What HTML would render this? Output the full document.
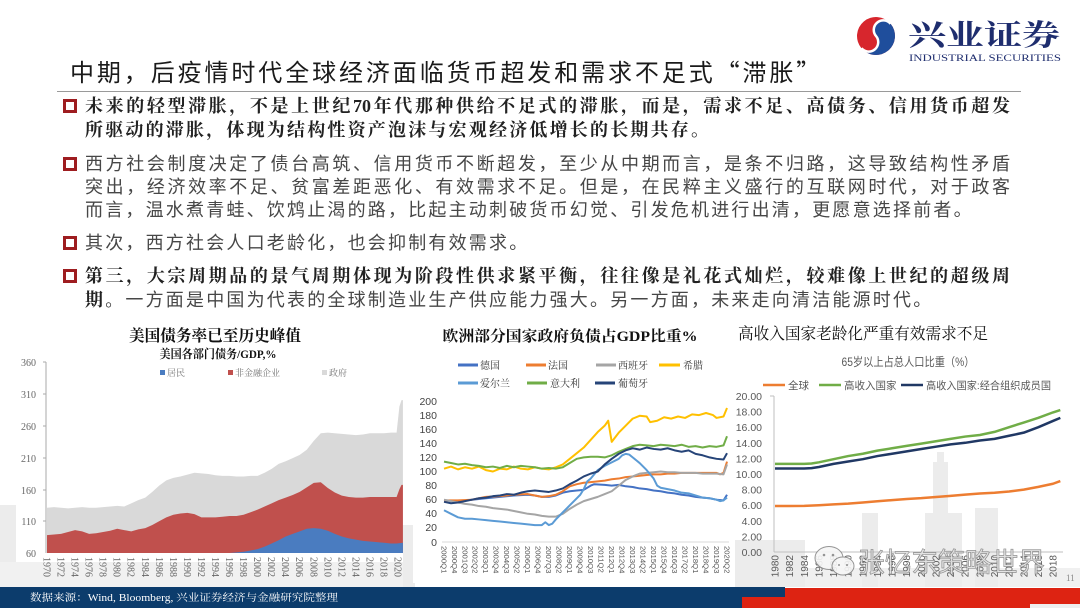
<!DOCTYPE html>
<html><head><meta charset="utf-8">
<style>
html,body{margin:0;padding:0;background:#fff;}
#pg{position:relative;width:1080px;height:608px;overflow:hidden;background:#fff;}
svg{position:absolute;left:0;top:0;}
.t{position:absolute;left:70px;top:56px;font-family:"Noto Sans CJK SC","Liberation Sans",sans-serif;font-size:24px;letter-spacing:2.9px;line-height:30px;color:#1a1a1a;white-space:nowrap;}
.rule{position:absolute;left:57px;top:91px;width:964px;height:1px;background:#9a9a9a;}
.l{position:absolute;left:85px;height:24px;line-height:24px;font-size:18px;}
.b{font-family:"Liberation Serif","Noto Serif CJK SC",serif;font-weight:700;color:#222;}
.r{font-family:"Liberation Sans","Noto Sans CJK SC",sans-serif;font-weight:400;color:#474747;}
.j{width:925px;text-align:justify;text-align-last:justify;}
.n{letter-spacing:2.2px;white-space:nowrap;}
.sq{position:absolute;left:63px;width:14px;height:14px;box-sizing:border-box;border:3.5px solid #9e1d20;background:#fff;}
</style></head><body><div id="pg">
<svg width="1080" height="608" viewBox="0 0 1080 608" xmlns="http://www.w3.org/2000/svg">
<!-- background skyline -->
<g fill="#ececec">
<rect x="0" y="505" width="16" height="82"/>
<rect x="0" y="562" width="410" height="25" fill="#f1f1f1"/>
<rect x="403" y="525" width="12" height="62"/>
<rect x="735" y="568" width="345" height="19" fill="#f0f0f0"/>
<rect x="735" y="540" width="70" height="47"/>
<rect x="862" y="513" width="16" height="74"/>
<rect x="925" y="513" width="37" height="74"/>
<rect x="933" y="462" width="15" height="51"/>
<rect x="937" y="452" width="7" height="10"/>
<rect x="975" y="508" width="23" height="79"/>
</g>
<rect x="413" y="318" width="322" height="265" fill="#fff"/>

<!-- logo -->
<g transform="translate(876,36) rotate(-40)">
<circle cx="0" cy="0" r="19" fill="#d7262d"/>
<path d="M-19,0 A19,19 0 0 0 19,0 A9.5,9.5 0 0 0 0,0 A9.5,9.5 0 0 1 -19,0 Z" fill="#1f4e9c"/>
<path d="M-19,0 A9.5,9.5 0 0 0 0,0 A9.5,9.5 0 0 1 19,0" fill="none" stroke="#fff" stroke-width="2.5"/>
</g>
<text x="908" y="45" font-family="Noto Serif CJK SC, serif" font-weight="700" font-size="29" fill="#1e2d6e" textLength="152" lengthAdjust="spacingAndGlyphs">兴业证券</text>
<text x="909" y="61" font-family="Liberation Serif, serif" font-size="9.5" fill="#1e2d6e" textLength="152" lengthAdjust="spacingAndGlyphs">INDUSTRIAL SECURITIES</text>

<!-- LEFT CHART -->
<text x="215" y="341" text-anchor="middle" font-family="Liberation Serif, Noto Serif CJK SC, serif" font-weight="700" font-size="16" fill="#111" textLength="172" lengthAdjust="spacingAndGlyphs">美国债务率已至历史峰值</text>
<text x="218" y="358" text-anchor="middle" font-family="Liberation Serif, Noto Serif CJK SC, serif" font-weight="700" font-size="12" fill="#111" textLength="117" lengthAdjust="spacingAndGlyphs">美国各部门债务/GDP,%</text>
<g font-family="Liberation Serif, Noto Serif CJK SC, serif" font-size="9" fill="#777">
<rect x="160" y="370" width="5" height="5" fill="#4a7cc0"/><text x="167" y="376">居民</text>
<rect x="228" y="370" width="5" height="5" fill="#c0504d"/><text x="235" y="376">非金融企业</text>
<rect x="322" y="370" width="5" height="5" fill="#d9d9d9"/><text x="329" y="376">政府</text>
</g>
<g transform="translate(47,553) scale(7.02,-0.637)">
<polygon fill="#d9d9d9" points="0,71 1,72 2,71 3,70 4,71 5,72 6,71 7,71 8,72 9,73 10,74 11,73 12,78 13,83 14,87 15,96 16,106 17,114 18,118 19,120 20,123 21,126 22,125 23,124 24,122 25,121 26,121 27,120 28,120 29,121 30,121 31,126 32,132 33,140 34,144 35,149 36,154 37,162 38,176 39,188 40,189 41,188 42,187 43,186 44,185 45,186 46,188 47,188 48,188 49,189 49.8,189 50.2,230 50.5,240 50.7,240 50.7,0 0,0"/>
<polygon fill="#c0504d" points="0,28 1,29 2,30 3,33 4,36 5,34 6,30 7,31 8,33 9,35 10,38 11,36 12,34 13,37 14,39 15,44 16,50 17,56 18,60 19,62 20,63 21,61 22,56 23,56 24,56 25,57 26,58 27,58 28,60 29,64 30,68 31,73 32,78 33,83 34,87 35,91 36,96 37,103 38,110 39,111 40,102 41,95 42,90 43,88 44,87 45,87 46,88 47,88 48,88 49,88 49.8,88 50.2,100 50.5,107 50.7,107 50.7,0 0,0"/>
<polygon fill="#4a7cc0" points="25,0 26,0 27,1 28,2 29,4 30,6 31,10 32,15 33,20 34,26 35,30 36,34 37,38 38,39 39,38 40,35 41,30 42,26 43,23 44,21 45,19 46,18 47,17 48,16 49,15 49.8,15 50.7,16 50.7,0"/>
</g>
<line x1="46" y1="362" x2="46" y2="553" stroke="#aaa" stroke-width="1"/>
<g stroke="#aaa" stroke-width="1">
<line x1="43" y1="362" x2="46" y2="362"/><line x1="43" y1="394" x2="46" y2="394"/><line x1="43" y1="426" x2="46" y2="426"/><line x1="43" y1="458" x2="46" y2="458"/><line x1="43" y1="490" x2="46" y2="490"/><line x1="43" y1="521" x2="46" y2="521"/>
</g>
<g font-family="Liberation Serif, serif" font-size="10" fill="#666" text-anchor="end">
<text x="36" y="366">360</text><text x="36" y="398">310</text><text x="36" y="430">260</text><text x="36" y="462">210</text><text x="36" y="494">160</text><text x="36" y="525">110</text><text x="36" y="557">60</text>
</g>
<g font-family="Liberation Serif, serif" font-size="10" fill="#666">
<text transform="translate(43.5,557) rotate(90)">1970</text>
<text transform="translate(57.5,557) rotate(90)">1972</text>
<text transform="translate(71.6,557) rotate(90)">1974</text>
<text transform="translate(85.6,557) rotate(90)">1976</text>
<text transform="translate(99.7,557) rotate(90)">1978</text>
<text transform="translate(113.7,557) rotate(90)">1980</text>
<text transform="translate(127.7,557) rotate(90)">1982</text>
<text transform="translate(141.8,557) rotate(90)">1984</text>
<text transform="translate(155.8,557) rotate(90)">1986</text>
<text transform="translate(169.9,557) rotate(90)">1988</text>
<text transform="translate(183.9,557) rotate(90)">1990</text>
<text transform="translate(197.9,557) rotate(90)">1992</text>
<text transform="translate(212,557) rotate(90)">1994</text>
<text transform="translate(226,557) rotate(90)">1996</text>
<text transform="translate(240.1,557) rotate(90)">1998</text>
<text transform="translate(254.1,557) rotate(90)">2000</text>
<text transform="translate(268.1,557) rotate(90)">2002</text>
<text transform="translate(282.2,557) rotate(90)">2004</text>
<text transform="translate(296.2,557) rotate(90)">2006</text>
<text transform="translate(310.3,557) rotate(90)">2008</text>
<text transform="translate(324.3,557) rotate(90)">2010</text>
<text transform="translate(338.3,557) rotate(90)">2012</text>
<text transform="translate(352.4,557) rotate(90)">2014</text>
<text transform="translate(366.4,557) rotate(90)">2016</text>
<text transform="translate(380.5,557) rotate(90)">2018</text>
<text transform="translate(394.5,557) rotate(90)">2020</text>
</g>

<!-- MIDDLE CHART -->
<text x="570" y="341" text-anchor="middle" font-family="Liberation Serif, Noto Serif CJK SC, serif" font-weight="700" font-size="15" fill="#111" textLength="255" lengthAdjust="spacingAndGlyphs">欧洲部分国家政府负债占GDP比重%</text>
<g stroke-width="3">
<line x1="458" y1="365" x2="478" y2="365" stroke="#4472c4"/>
<line x1="526" y1="365" x2="546" y2="365" stroke="#ed7d31"/>
<line x1="596" y1="365" x2="616" y2="365" stroke="#a5a5a5"/>
<line x1="659" y1="365" x2="680" y2="365" stroke="#ffc000"/>
<line x1="458" y1="383" x2="478" y2="383" stroke="#5b9bd5"/>
<line x1="527" y1="383" x2="547" y2="383" stroke="#70ad47"/>
<line x1="595" y1="383" x2="615" y2="383" stroke="#264478"/>
</g>
<g font-family="Liberation Serif, Noto Serif CJK SC, serif" font-size="10" fill="#333">
<text x="480" y="369">德国</text><text x="548" y="369">法国</text><text x="618" y="369">西班牙</text><text x="683" y="369">希腊</text>
<text x="480" y="387">爱尔兰</text><text x="550" y="387">意大利</text><text x="618" y="387">葡萄牙</text>
</g>
<line x1="442" y1="542" x2="729" y2="542" stroke="#d9d9d9" stroke-width="1"/>
<g font-family="Liberation Sans, sans-serif" font-size="10.5" fill="#444" text-anchor="end">
<text x="437" y="405">200</text><text x="437" y="419">180</text><text x="437" y="433">160</text><text x="437" y="447">140</text><text x="437" y="461">120</text><text x="437" y="475">100</text><text x="437" y="489">80</text><text x="437" y="503">60</text><text x="437" y="517">40</text><text x="437" y="531">20</text><text x="437" y="546">0</text>
</g>
<g transform="translate(444,542) scale(3.494,-0.705)" fill="none" stroke-width="2" stroke-linejoin="round">
<polyline vector-effect="non-scaling-stroke" stroke="#4472c4" points="0,59 4,58 8,60 12,62 16,64 20,66 24,67 26,66 28,64 30,64 32,66 34,70 36,72 38,73 40,74 42,80 43,82 46,81 48,80 50,81 52,79 54,78 56,76 58,75 60,73 62,72 64,70 66,69 68,67 70,66 72,64 74,63 76,62 78,60 80,59 81,67"/>
<polyline vector-effect="non-scaling-stroke" stroke="#ed7d31" points="0,59 4,59 8,60 10,62 12,64 16,65 20,67 24,68 26,66 28,64 30,65 32,67 34,72 36,79 38,82 40,84 42,85 44,86 46,87 48,89 50,90 52,92 54,93 56,94 58,95 60,96 62,96 64,97 66,97 68,98 70,98 72,98 74,98 76,98 78,98 79,96 80,98 81,114"/>
<polyline vector-effect="non-scaling-stroke" stroke="#a5a5a5" points="0,60 2,58 4,56 6,54 8,53 10,51 12,50 14,48 16,47 18,46 20,44 22,42 24,40 26,39 28,37 30,36 32,36 34,40 36,47 38,53 40,58 42,61 44,64 46,68 48,72 50,80 52,88 54,93 56,97 58,98 60,99 62,100 64,99 66,99 68,98 70,98 72,98 74,97 76,97 78,97 80,96 81,110"/>
<polyline vector-effect="non-scaling-stroke" stroke="#ffc000" points="0,104 2,107 4,103 6,106 8,104 10,107 12,102 14,100 16,104 18,103 20,107 22,104 24,103 26,106 28,104 30,103 32,106 34,110 36,118 38,126 40,134 42,145 44,156 46,165 47,172 48,142 50,155 52,165 54,175 56,179 58,178 59,170 61,172 63,177 65,175 67,178 69,176 71,181 73,180 75,183 77,180 78,176 80,178 81,190"/>
<polyline vector-effect="non-scaling-stroke" stroke="#5b9bd5" points="0,45 2,40 4,35 6,33 8,33 10,32 12,31 14,30 16,29 18,28 20,27 22,26 24,25 26,24 28,24 29,28 30,24 31,26 32,32 34,42 36,52 38,62 39,67 40,75 41,86 42,90 44,102 46,108 48,113 50,118 51,123 52,125 53,124 54,120 56,112 58,102 60,90 61,80 62,77 64,75 66,73 68,70 70,69 72,66 74,63 76,62 78,60 79,58 80,59 81,63"/>
<polyline vector-effect="non-scaling-stroke" stroke="#70ad47" points="0,114 2,112 4,110 6,111 8,109 10,108 12,106 14,107 16,105 18,108 20,106 22,108 24,107 26,106 28,104 30,105 32,104 34,106 36,112 38,118 40,120 42,121 44,121 46,120 48,123 50,128 52,132 54,136 56,138 58,137 60,136 62,138 64,137 66,136 68,138 70,135 72,136 74,134 76,136 78,135 80,137 81,150"/>
<polyline vector-effect="non-scaling-stroke" stroke="#264478" points="0,57 2,55 4,56 6,58 8,60 10,62 12,63 14,65 16,66 18,68 20,67 22,70 24,72 26,73 28,72 30,71 32,73 34,76 36,82 38,87 40,93 42,97 44,100 46,110 48,118 50,125 52,130 54,133 56,131 58,134 60,132 62,131 64,133 66,130 68,128 70,130 72,125 74,123 76,120 78,118 80,117 81,126"/>
</g>
<g font-family="Liberation Sans, sans-serif" font-size="7.7" fill="#555">
<text transform="translate(441.3,546) rotate(90)">2000Q1</text>
<text transform="translate(451.8,546) rotate(90)">2000Q4</text>
<text transform="translate(462.3,546) rotate(90)">2001Q3</text>
<text transform="translate(472.7,546) rotate(90)">2002Q2</text>
<text transform="translate(483.2,546) rotate(90)">2003Q1</text>
<text transform="translate(493.7,546) rotate(90)">2003Q4</text>
<text transform="translate(504.2,546) rotate(90)">2004Q3</text>
<text transform="translate(514.7,546) rotate(90)">2005Q2</text>
<text transform="translate(525.1,546) rotate(90)">2006Q1</text>
<text transform="translate(535.6,546) rotate(90)">2006Q4</text>
<text transform="translate(546.1,546) rotate(90)">2007Q3</text>
<text transform="translate(556.6,546) rotate(90)">2008Q2</text>
<text transform="translate(567.1,546) rotate(90)">2009Q1</text>
<text transform="translate(577.5,546) rotate(90)">2009Q4</text>
<text transform="translate(588,546) rotate(90)">2010Q3</text>
<text transform="translate(598.5,546) rotate(90)">2011Q2</text>
<text transform="translate(609,546) rotate(90)">2012Q1</text>
<text transform="translate(619.5,546) rotate(90)">2012Q4</text>
<text transform="translate(629.9,546) rotate(90)">2013Q3</text>
<text transform="translate(640.4,546) rotate(90)">2014Q2</text>
<text transform="translate(650.9,546) rotate(90)">2015Q1</text>
<text transform="translate(661.4,546) rotate(90)">2015Q4</text>
<text transform="translate(671.9,546) rotate(90)">2016Q3</text>
<text transform="translate(682.3,546) rotate(90)">2017Q2</text>
<text transform="translate(692.8,546) rotate(90)">2018Q1</text>
<text transform="translate(703.3,546) rotate(90)">2018Q4</text>
<text transform="translate(713.8,546) rotate(90)">2019Q3</text>
<text transform="translate(724.3,546) rotate(90)">2020Q2</text>
</g>

<!-- RIGHT CHART -->
<text x="738" y="339" font-family="Liberation Serif, Noto Serif CJK SC, serif" font-size="16" fill="#111" textLength="250" lengthAdjust="spacingAndGlyphs">高收入国家老龄化严重有效需求不足</text>
<text x="908" y="366" text-anchor="middle" font-family="Liberation Sans, Noto Sans CJK SC, sans-serif" font-size="12" fill="#595959" textLength="133" lengthAdjust="spacingAndGlyphs">65岁以上占总人口比重（%）</text>
<g stroke-width="2.5">
<line x1="763" y1="385" x2="785" y2="385" stroke="#ed7d31"/>
<line x1="819" y1="385" x2="841" y2="385" stroke="#70ad47"/>
<line x1="901" y1="385" x2="923" y2="385" stroke="#203864"/>
</g>
<g font-family="Liberation Sans, Noto Sans CJK SC, sans-serif" font-size="10.5" fill="#595959">
<text x="788" y="389">全球</text><text x="844" y="389">高收入国家</text><text x="926" y="389" textLength="125" lengthAdjust="spacingAndGlyphs">高收入国家:经合组织成员国</text>
</g>
<g font-family="Liberation Sans, sans-serif" font-size="10.5" fill="#595959" text-anchor="end">
<text x="762" y="400">20.00</text><text x="762" y="415.6">18.00</text><text x="762" y="431.2">16.00</text><text x="762" y="446.8">14.00</text><text x="762" y="462.4">12.00</text><text x="762" y="478">10.00</text><text x="762" y="493.6">8.00</text><text x="762" y="509.2">6.00</text><text x="762" y="524.8">4.00</text><text x="762" y="540.4">2.00</text><text x="762" y="556">0.00</text>
</g>
<line x1="774" y1="396" x2="774" y2="552" stroke="#bfbfbf"/>
<line x1="770" y1="396" x2="774" y2="396" stroke="#bfbfbf"/>
<line x1="774" y1="552" x2="1063" y2="552" stroke="#bfbfbf"/>
<g transform="translate(775,552) scale(7.316,-7.8)" fill="none" stroke-width="2.5" stroke-linejoin="round">
<polyline vector-effect="non-scaling-stroke" stroke="#ed7d31" points="0,5.9 2,5.9 4,5.92 6,6.0 8,6.1 10,6.2 12,6.35 14,6.5 16,6.65 18,6.8 20,6.9 22,7.05 24,7.2 26,7.35 28,7.5 30,7.6 32,7.75 34,8.0 36,8.35 38,8.75 39,9.1"/>
<polyline vector-effect="non-scaling-stroke" stroke="#70ad47" points="0,11.3 2,11.3 4,11.3 5,11.35 6,11.5 8,11.9 10,12.3 12,12.6 14,13.0 16,13.3 18,13.6 20,13.9 22,14.2 24,14.5 26,14.8 28,15.0 30,15.4 32,16.0 34,16.6 36,17.2 38,17.9 39,18.2"/>
<polyline vector-effect="non-scaling-stroke" stroke="#203864" points="0,10.7 2,10.7 4,10.7 5,10.75 6,10.9 8,11.3 10,11.6 12,11.9 14,12.3 16,12.6 18,12.9 20,13.2 22,13.5 24,13.8 26,14.0 28,14.3 30,14.5 32,14.9 34,15.3 36,16.0 38,16.8 39,17.2"/>
</g>
<g font-family="Liberation Sans, sans-serif" font-size="10" fill="#595959" text-anchor="end">
<text transform="translate(778.5,555) rotate(-90)">1980</text>
<text transform="translate(793.1,555) rotate(-90)">1982</text>
<text transform="translate(807.8,555) rotate(-90)">1984</text>
<text transform="translate(822.4,555) rotate(-90)">1986</text>
<text transform="translate(837.0,555) rotate(-90)">1988</text>
<text transform="translate(851.7,555) rotate(-90)">1990</text>
<text transform="translate(866.3,555) rotate(-90)">1992</text>
<text transform="translate(880.9,555) rotate(-90)">1994</text>
<text transform="translate(895.6,555) rotate(-90)">1996</text>
<text transform="translate(910.2,555) rotate(-90)">1998</text>
<text transform="translate(924.8,555) rotate(-90)">2000</text>
<text transform="translate(939.5,555) rotate(-90)">2002</text>
<text transform="translate(954.1,555) rotate(-90)">2004</text>
<text transform="translate(968.7,555) rotate(-90)">2006</text>
<text transform="translate(983.4,555) rotate(-90)">2008</text>
<text transform="translate(998.0,555) rotate(-90)">2010</text>
<text transform="translate(1012.6,555) rotate(-90)">2012</text>
<text transform="translate(1027.3,555) rotate(-90)">2014</text>
<text transform="translate(1041.9,555) rotate(-90)">2016</text>
<text transform="translate(1056.5,555) rotate(-90)">2018</text>
</g>

<!-- watermark -->
<g opacity="0.9">
<ellipse cx="829" cy="558" rx="14" ry="11.5" fill="#f6f6f6" stroke="#8a8a8a" stroke-width="1"/>
<ellipse cx="843" cy="566" rx="11" ry="9" fill="#f6f6f6" stroke="#8a8a8a" stroke-width="1"/>
<circle cx="824" cy="555" r="1.3" fill="#8a8a8a"/><circle cx="833" cy="555" r="1.3" fill="#8a8a8a"/>
<circle cx="839" cy="565" r="1" fill="#8a8a8a"/><circle cx="847" cy="565" r="1" fill="#8a8a8a"/>
<text x="858" y="572" font-family="Noto Sans CJK SC, sans-serif" font-size="27" fill="#e2e2e2" stroke="#858585" stroke-width="0.7" textLength="187" lengthAdjust="spacingAndGlyphs">张忆东策略世界</text>
</g>
<text x="1066" y="581" font-family="Liberation Serif, serif" font-size="9" fill="#888">11</text>

<!-- bottom bar -->
<rect x="0" y="587" width="785" height="10" fill="#0c3c6c"/>
<rect x="0" y="596" width="742" height="12" fill="#0c3c6c"/>
<rect x="785" y="588" width="295" height="20" fill="#dd2312"/>
<rect x="742" y="597" width="50" height="11" fill="#dd2312"/>
<rect x="1030" y="604" width="50" height="4" fill="#eeeeee"/>
<text x="30" y="601" font-family="Liberation Serif, Noto Serif CJK SC, serif" font-size="10" fill="#ffffff" textLength="308" lengthAdjust="spacingAndGlyphs">数据来源：Wind, Bloomberg, 兴业证券经济与金融研究院整理</text>
</svg>

<div class="t">中期，后疫情时代全球经济面临货币超发和需求不足式“滞胀”</div>
<div class="rule"></div>

<div class="sq" style="top:99px"></div>
<div class="l b j" style="top:94px">未来的轻型滞胀，不是上世纪70年代那种供给不足式的滞胀，而是，需求不足、高债务、信用货币超发</div>
<div class="l b n" style="top:118px">所驱动的滞胀，体现为结构性资产泡沫与宏观经济低增长的长期共存。</div>

<div class="sq" style="top:157px"></div>
<div class="l r j" style="top:152px">西方社会制度决定了债台高筑、信用货币不断超发，至少从中期而言，是条不归路，这导致结构性矛盾</div>
<div class="l r j" style="top:175px">突出，经济效率不足、贫富差距恶化、有效需求不足。但是，在民粹主义盛行的互联网时代，对于政客</div>
<div class="l r n" style="top:198px">而言，温水煮青蛙、饮鸩止渴的路，比起主动刺破货币幻觉、引发危机进行出清，更愿意选择前者。</div>

<div class="sq" style="top:236px"></div>
<div class="l r n" style="top:231px">其次，西方社会人口老龄化，也会抑制有效需求。</div>

<div class="sq" style="top:269px"></div>
<div class="l b j" style="top:264px">第三，大宗周期品的景气周期体现为阶段性供求紧平衡，往往像是礼花式灿烂，较难像上世纪的超级周</div>
<div class="l n" style="top:288px"><span class="b">期。</span><span class="r">一方面是中国为代表的全球制造业生产供应能力强大。另一方面，未来走向清洁能源时代。</span></div>
</div></body></html>
